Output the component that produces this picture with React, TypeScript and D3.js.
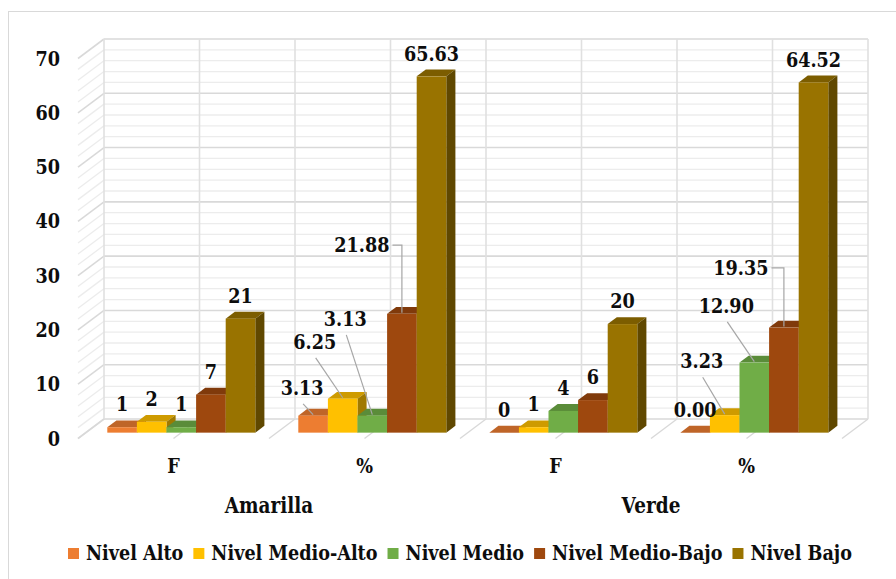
import { useEffect, useRef } from "react"
import * as d3 from "d3"

// Chart data
const categories = ["F", "%", "F", "%"]
const groups = ["Amarilla", "Verde"]
const seriesNames = ["Nivel Alto", "Nivel Medio-Alto", "Nivel Medio", "Nivel Medio-Bajo", "Nivel Bajo"]
const nivelAlto = [1, 3.13, 0, 0.0]
const nivelMedioAlto = [2, 6.25, 1, 3.23]
const nivelMedio = [1, 3.13, 4, 12.9]
const nivelMedioBajo = [7, 21.88, 6, 19.35]
const nivelBajo = [21, 65.63, 20, 64.52]
const seriesColors = ["#ED7D31", "#FFC000", "#70AD47", "#9E480E", "#997300"]
const yTicks = [0, 10, 20, 30, 40, 50, 60, 70]

// labels that Excel moved off the bar, with their leader lines
const labelMoves = [
  { s: 0, c: 1, dx: -11, dy: -5, kind: "diag" },
  { s: 1, c: 1, dx: -28, dy: -34, kind: "diag" },
  { s: 2, c: 1, dx: -27, dy: -74, kind: "diag" },
  { s: 3, c: 1, dx: -40, dy: -46, kind: "elbow" },
  { s: 0, c: 3, dx: 0, dy: 0, kind: "none" },
  { s: 1, c: 3, dx: -23, dy: -31, kind: "diag" },
  { s: 2, c: 3, dx: -28, dy: -34, kind: "diag" },
  { s: 3, c: 3, dx: -43, dy: -37, kind: "elbow" },
]

const FONT = "DejaVu Serif"
const SX = 0.84 // horizontal squeeze, DejaVu Serif is much wider than Times
const FS = 21

export default function App() {
  const svgRef = useRef<SVGSVGElement>(null)

  useEffect(() => {
    if (!svgRef.current) return
    const root = d3.select(svgRef.current)
    root.selectAll("*").remove()

    const series = [nivelAlto, nivelMedioAlto, nivelMedio, nivelMedioBajo, nivelBajo]

    // back wall geometry
    const wallLeft = 104
    const wallRight = 868
    const depthX = -26 // shift from back wall to front edge
    const depthY = 19.5

    const x = d3.scaleBand<number>().domain(d3.range(categories.length)).range([wallLeft, wallRight]).padding(0)
    const inner = d3
      .scaleBand<number>()
      .domain(d3.range(series.length))
      .range([(x.bandwidth() - 148) / 2, (x.bandwidth() + 148) / 2])
      .padding(0)
    const y = d3.scaleLinear().domain([0, 70]).range([419, 39])

    const proj = (f: number) => ({ dx: depthX * f, dy: depthY * f })
    const front = proj(0.7)
    const back = proj(0.35)
    const bdx = back.dx - front.dx
    const bdy = back.dy - front.dy

    const svg = root.append("g").attr("font-family", FONT).attr("font-weight", 700).attr("fill", "#0d0d0d")

    const label = (
      parent: d3.Selection<SVGGElement, unknown, null, undefined>,
      tx: number,
      ty: number,
      txt: string,
      size: number,
      anchor = "middle",
    ) =>
      parent
        .append("text")
        .attr("transform", `translate(${tx},${ty}) scale(${SX},1)`)
        .attr("text-anchor", anchor)
        .attr("font-size", size)
        .text(txt)

    // outer border
    svg
      .append("rect")
      .attr("x", 8.5)
      .attr("y", 11.5)
      .attr("width", 900)
      .attr("height", 600)
      .attr("fill", "#fff")
      .attr("stroke", "#d9d9d9")

    // wall gridlines
    const grid = svg.append("g").attr("fill", "none")
    d3.range(0, 71, 2).forEach((v) => {
      const major = v % 10 === 0
      const col = major ? "#d9d9d9" : "#ececec"
      const sw = major ? 1.6 : 1.3
      grid
        .append("line")
        .attr("x1", wallLeft)
        .attr("x2", wallRight)
        .attr("y1", y(v))
        .attr("y2", y(v))
        .attr("stroke", col)
        .attr("stroke-width", sw)
      grid
        .append("line")
        .attr("x1", wallLeft)
        .attr("x2", wallLeft + depthX)
        .attr("y1", y(v))
        .attr("y2", y(v) + depthY)
        .attr("stroke", col)
        .attr("stroke-width", sw)
    })
    d3.range(0, categories.length * 2 + 1).forEach((i) => {
      const xv = wallLeft + (i * x.bandwidth()) / 2
      grid
        .append("line")
        .attr("x1", xv)
        .attr("x2", xv)
        .attr("y1", y(70))
        .attr("y2", y(0))
        .attr("stroke", "#e0e0e0")
        .attr("stroke-width", 1.6)
      grid
        .append("line")
        .attr("x1", xv)
        .attr("x2", xv + depthX)
        .attr("y1", y(0))
        .attr("y2", y(0) + depthY)
        .attr("stroke", "#d9d9d9")
        .attr("stroke-width", 1.4)
    })

    // y tick labels
    const ticks = svg.append("g")
    yTicks.forEach((d) => label(ticks, 60, y(d) + depthY + 7, String(d), FS, "end"))

    // bars
    const bars = svg.append("g")
    const barInfo: { s: number; c: number; x0: number; w: number; yTop: number; v: number }[] = []
    categories.forEach((_, c) => {
      series.forEach((vals, s) => {
        const v = vals[c]
        const x0 = (x(c) ?? 0) + (inner(s) ?? 0) + front.dx
        const w = inner.bandwidth()
        const yTop = y(v) + front.dy
        const yBot = y(0) + front.dy
        const base = d3.color(seriesColors[s])!
        const topCol = base.darker(0.6).formatHex()
        const sideCol = base.darker(1.3).formatHex()
        barInfo.push({ s, c, x0, w, yTop, v })
        bars
          .append("polygon")
          .attr(
            "points",
            [
              [x0, yTop],
              [x0 + w, yTop],
              [x0 + w + bdx, yTop + bdy],
              [x0 + bdx, yTop + bdy],
            ].join(" "),
          )
          .attr("fill", topCol)
        bars
          .append("polygon")
          .attr(
            "points",
            [
              [x0 + w, yTop],
              [x0 + w + bdx, yTop + bdy],
              [x0 + w + bdx, yBot + bdy],
              [x0 + w, yBot],
            ].join(" "),
          )
          .attr("fill", sideCol)
        bars
          .append("rect")
          .attr("x", x0)
          .attr("y", yTop)
          .attr("width", w)
          .attr("height", yBot - yTop)
          .attr("fill", seriesColors[s])
      })
    })

    // data labels
    const labels = svg.append("g")
    const leaders = svg.append("g").attr("fill", "none").attr("stroke", "#a6a6a6").attr("stroke-width", 1.2)
    barInfo.forEach((b) => {
      const isPct = categories[b.c] === "%"
      const txt = isPct ? b.v.toFixed(2) : String(b.v)
      const cx = b.x0 + b.w / 2
      const baseY = b.yTop + bdy - 9
      const mv = labelMoves.find((m) => m.s === b.s && m.c === b.c)
      const lx = cx + (mv ? mv.dx : 0)
      const ly = baseY + (mv ? mv.dy : 0)
      const t = label(labels, lx, ly, txt, FS)
      if (mv && mv.kind === "diag") {
        leaders
          .append("line")
          .attr("x1", lx + 1)
          .attr("y1", ly + 9)
          .attr("x2", cx)
          .attr("y2", b.yTop - 1)
      } else if (mv && mv.kind === "elbow") {
        const tw = (t.node() as SVGTextElement).getComputedTextLength() * SX
        const sx = lx + tw / 2 + 3
        const sy = ly - 7
        leaders.append("path").attr("d", `M${sx},${sy}H${cx}V${b.yTop - 1}`)
      }
    })

    // category labels
    const axis = svg.append("g")
    categories.forEach((d, i) => label(axis, (x(i) ?? 0) + x.bandwidth() / 2 + depthX, 473, d, FS))
    groups.forEach((d, i) => label(axis, wallLeft + (i + 0.5) * 2 * x.bandwidth() + depthX, 513, d, FS + 1))

    // legend
    const legend = svg.append("g")
    let cursor = 0
    seriesNames.forEach((name, i) => {
      const g = legend.append("g").attr("transform", `translate(${cursor},0)`)
      g.append("rect").attr("x", 0).attr("y", -12).attr("width", 11).attr("height", 11).attr("fill", seriesColors[i])
      const t = label(g, 18, 0, name, FS, "start")
      const w = 18 + (t.node() as SVGTextElement).getComputedTextLength() * SX
      cursor += w + 10
    })
    const total = cursor - 10
    legend.attr("transform", `translate(${460 - total / 2},560)`)
  }, [])

  return (
    <svg
      ref={svgRef}
      width={896}
      height={579}
      style={{ position: "absolute", left: 0, top: 0, background: "#fff" }}
    ></svg>
  )
}
